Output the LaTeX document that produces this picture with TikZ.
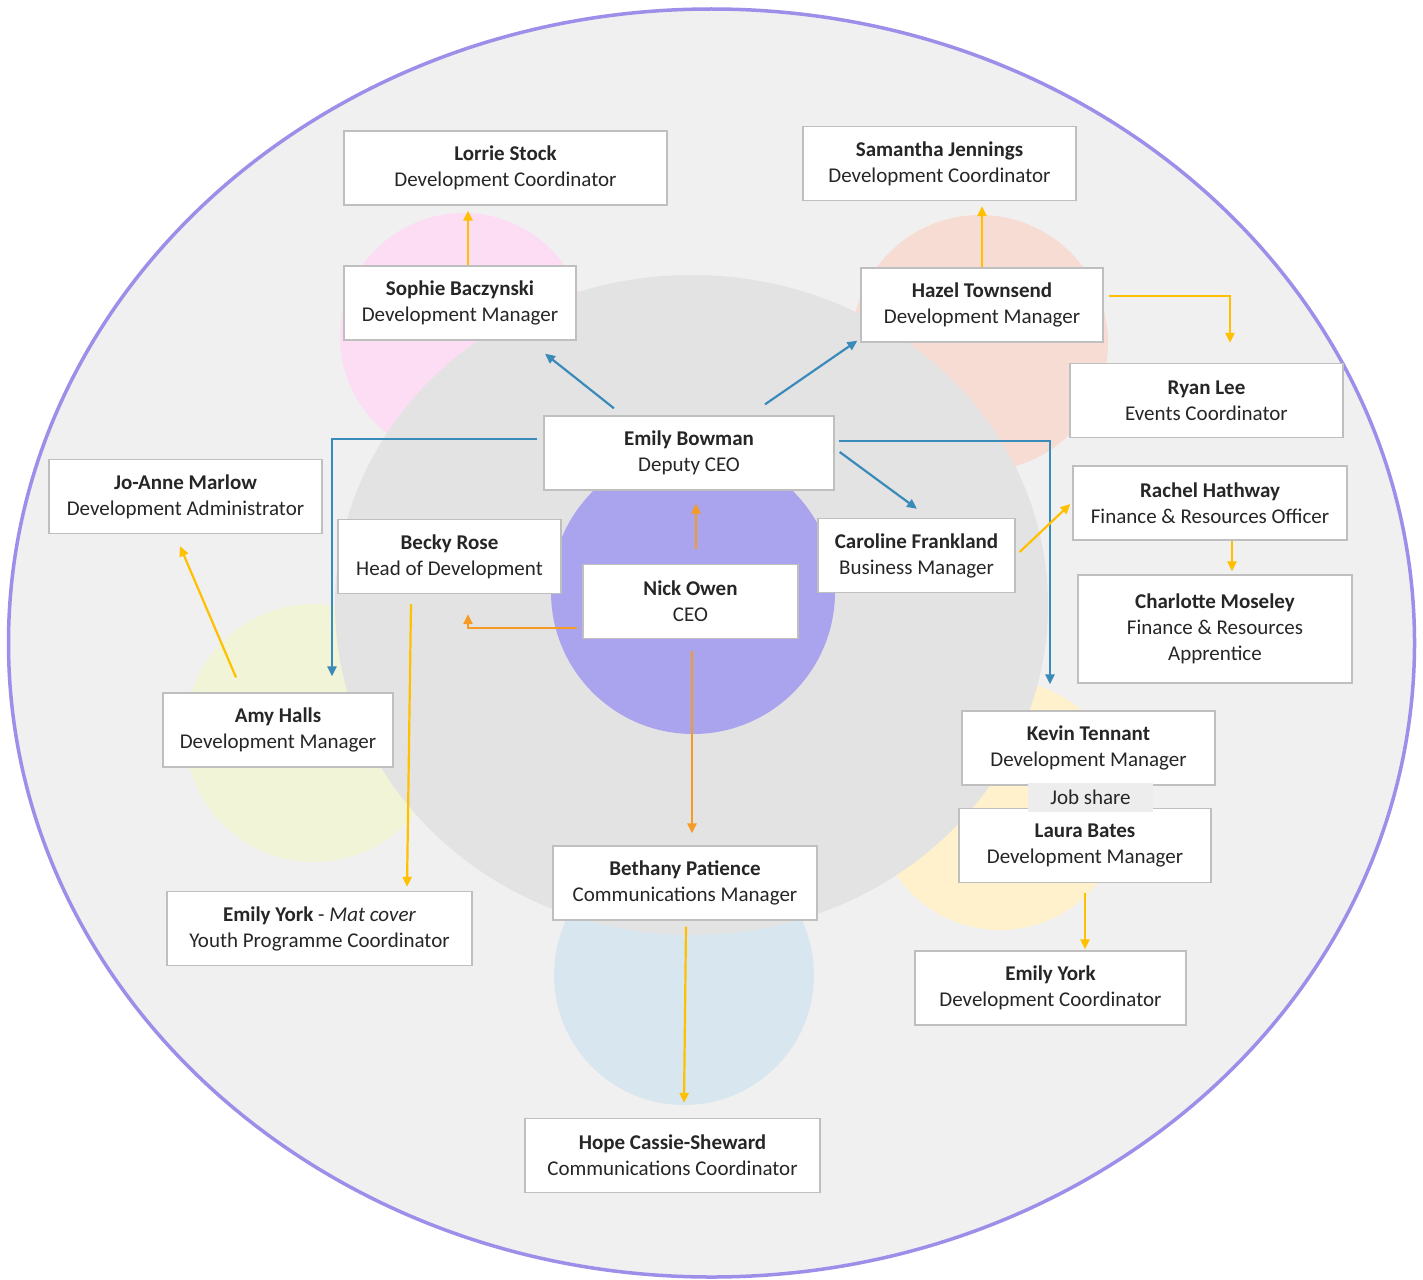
\documentclass[tikz,border=0pt]{standalone}
\usepackage{fontspec}
\setmainfont{Carlito}
\usepackage{tikz}
\usetikzlibrary{arrows.meta}
\definecolor{ringpurple}{HTML}{9C8FEA}
\definecolor{outerfill}{HTML}{F0F0F0}
\definecolor{innergrey}{HTML}{E3E3E3}
\definecolor{ceopurple}{HTML}{AAA3EE}
\definecolor{pinkc}{HTML}{FCDDF4}
\definecolor{salmonc}{HTML}{F7DCD4}
\definecolor{limec}{HTML}{F1F4D6}
\definecolor{creamc}{HTML}{FFF1CC}
\definecolor{bluec}{HTML}{D8E7EF}
\definecolor{boxgrey}{HTML}{BFBFBF}
\definecolor{jobgrey}{HTML}{EDEDED}
\definecolor{arryellow}{HTML}{FFC000}
\definecolor{arrorange}{HTML}{F59A23}
\definecolor{arrblue}{HTML}{3B8BBA}
\definecolor{inktext}{HTML}{262626}

\begin{document}
\begin{tikzpicture}[x=1pt,y=-1pt]
\tikzstyle{person}=[draw=boxgrey,fill=white,line width=1.3pt,align=center,minimum height=74pt,inner sep=0pt,text=inktext,font=\fontsize{21}{26}\selectfont]
\tikzstyle{yarr}=[draw=arryellow,line width=2.2pt,-{Triangle[length=10pt,width=9pt]}]
\tikzstyle{oarr}=[draw=arrorange,line width=2.2pt,-{Triangle[length=10pt,width=9pt]}]
\tikzstyle{barr}=[draw=arrblue,line width=2.2pt,-{Triangle[length=10pt,width=9pt]}]
\useasboundingbox (0,0) rectangle (1423,1279);
\fill[white] (0,0) rectangle (1423,1279);
\draw[fill=outerfill,draw=ringpurple,line width=3.5pt] (711.5,643) ellipse [x radius=703,y radius=634];
\fill[pinkc] (463.5,336.5) circle [radius=123.5];
\fill[salmonc] (980,343) circle [radius=128];
\fill[limec] (314,733) circle [radius=129];
\fill[creamc] (1000,805) circle [radius=125];
\fill[bluec] (684,975) circle [radius=130];
\fill[innergrey] (691.5,605) ellipse [x radius=356.5,y radius=330];
\fill[ceopurple] (693,592) circle [radius=142];

\node[person,minimum width=323pt](lorr) at (505.5,168) {\textbf{Lorrie Stock}\\Development Coordinator};
\node[person,minimum width=232pt](soph) at (460,303) {\textbf{Sophie Baczynski}\\Development Manager};
\node[person,minimum width=273pt](sam) at (939.5,163.5) {\textbf{Samantha Jennings}\\Development Coordinator};
\node[person,minimum width=242pt](haz) at (982,305) {\textbf{Hazel Townsend}\\Development Manager};
\node[person,minimum width=273pt](ryan) at (1206.5,400.5) {\textbf{Ryan Lee}\\Events Coordinator};
\node[person,minimum width=290pt](bow) at (689,453) {\textbf{Emily Bowman}\\Deputy CEO};
\node[person,minimum width=273pt](jo) at (185.5,496.5) {\textbf{Jo-Anne Marlow}\\Development Administrator};
\node[person,minimum width=223pt](becky) at (449.5,556.5) {\textbf{Becky Rose}\\Head of Development};
\node[person,minimum width=215pt](nick) at (690.5,601.5) {\textbf{Nick Owen}\\CEO};
\node[person,minimum width=197pt](carol) at (916.5,555.5) {\textbf{Caroline Frankland}\\Business Manager};
\node[person,minimum width=274pt](rach) at (1210,503) {\textbf{Rachel Hathway}\\Finance \& Resources Officer};
\node[person,minimum width=274pt,minimum height=108pt](charl) at (1215,629) {\textbf{Charlotte Moseley}\\Finance \& Resources\\Apprentice};
\node[person,minimum width=230pt](amy) at (278,730) {\textbf{Amy Halls}\\Development Manager};
\node[person,minimum width=253pt](kev) at (1088.5,748) {\textbf{Kevin Tennant}\\Development Manager};
\node[person,minimum width=252pt](laura) at (1085,845.5) {\textbf{Laura Bates}\\Development Manager};
\node[person,minimum width=271pt](emr) at (1050.5,988) {\textbf{Emily York}\\Development Coordinator};
\node[person,minimum width=305pt](emm) at (319.5,928.5) {\textbf{Emily York} - \textit{Mat cover}\\Youth Programme Coordinator};
\node[person,minimum width=264pt](beth) at (685,883) {\textbf{Bethany Patience}\\Communications Manager};
\node[person,minimum width=295pt](hope) at (672.5,1155.5) {\textbf{Hope Cassie-Sheward}\\Communications Coordinator};
\node[fill=jobgrey,minimum width=125pt,minimum height=29pt,inner sep=0pt,text=inktext,font=\fontsize{21}{26}\selectfont](job) at (1090.5,797.5) {Job share};

\draw[oarr] ([shift={(5.5pt,15pt)}]nick.north) -- ([shift={(5.5pt,-13pt)}]nick.north |- bow.south);
\draw[oarr,shorten >=20pt] ([shift={(-5pt,-26.5pt)}]nick.west) -| ([xshift=18.5pt]becky.south);
\draw[oarr,shorten >=12pt] ([shift={(1.5pt,-12pt)}]nick.south) -- ([xshift=1.5pt]nick.south |- beth.north);
\draw[barr] ([shift={(-75pt,7pt)}]bow.north) -- ([shift={(85pt,-13pt)}]soph.south);
\draw[barr] ([shift={(76pt,11pt)}]bow.north) -- ([shift={(-3pt,2pt)}]haz.south west);
\draw[barr,shorten >=16pt] ([shift={(-6pt,14pt)}]bow.west) -| ([xshift=54pt]amy.north);
\draw[barr,shorten >=26pt] ([shift={(4pt,12pt)}]bow.east) -| ([xshift=-38.5pt]kev.north);
\draw[barr] ([shift={(5pt,1pt)}]bow.east) -- ([shift={(0.5pt,9pt)}]carol.north);
\draw[yarr,shorten >=5pt] ([xshift=8pt]soph.north) -- ([xshift=8pt]soph.north |- lorr.south);
\draw[yarr,shorten >=5pt] (haz.north) -- (haz.north |- sam.south);
\draw[yarr,shorten >=20pt] ([shift={(5pt,9pt)}]haz.east) -| ([xshift=23.5pt]ryan.north);
\draw[yarr] ([shift={(-38.5pt,-10pt)}]becky.south) -- ([shift={(87.5pt,4pt)}]emm.north);
\draw[yarr] ([shift={(-42pt,15pt)}]amy.north) -- ([shift={(-5.5pt,-12pt)}]jo.south);
\draw[yarr] ([shift={(4pt,3.5pt)}]carol.east) -- ([shift={(-2pt,-1pt)}]rach.west);
\draw[yarr,shorten >=3pt] ([xshift=22pt]rach.south) -- ([xshift=22pt]rach.south |- charl.north);
\draw[yarr,shorten >=1pt] ([yshift=-10pt]laura.south) -- (laura.south |- emr.north);
\draw[yarr] ([shift={(1pt,-6pt)}]beth.south) -- ([shift={(11.5pt,15pt)}]hope.north);
\end{tikzpicture}
\end{document}
